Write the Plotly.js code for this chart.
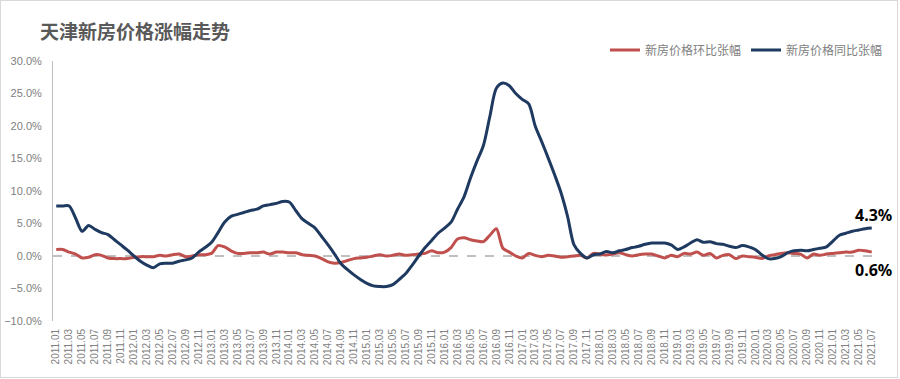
<!DOCTYPE html>
<html>
<head>
<meta charset="utf-8">
<script src="https://cdn.plot.ly/plotly-3.0.1.min.js"></script>
<style>
  html, body { margin: 0; padding: 0; background: #fff; }
  #wrap { position: relative; width: 900px; height: 379px; }
  #chart { width: 900px; height: 379px; }
  #frame { position: absolute; left: 0; top: 0; width: 896px; height: 376px; border: 1px solid #D9D9D9; pointer-events: none; }
</style>
</head>
<body>
<div id="wrap"><div id="chart"></div><div id="frame"></div></div>
<script>
// Categories: monthly, 2011.01 .. 2021.07
const startYear = 2011, endYear = 2021, endMonth = 7;
const months = [];
for (let y = startYear; y <= endYear; y++) {
  for (let m = 1; m <= 12; m++) {
    if (y === endYear && m > endMonth) break;
    months.push(y + '.' + (m < 10 ? '0' + m : m));
  }
}
// Tick labels: every second month
const tickLabels = months.filter((_, i) => i % 2 === 0);

// 新房价格环比张幅 (month-on-month, %)
const momValues = [
  1.0, 1.0, 0.6, 0.3, -0.3, -0.2, 0.2, 0.1, -0.3, -0.4, -0.4, -0.4,
  -0.2, -0.1, -0.1, -0.1, 0.1, 0.0, 0.2, 0.3, -0.1, 0.0, 0.2, 0.2,
  0.4, 1.6, 1.4, 0.8, 0.4, 0.4, 0.5, 0.5, 0.6, 0.3, 0.6, 0.6,
  0.5, 0.5, 0.2, 0.1, 0.0, -0.4, -0.9, -1.1, -1.0, -0.7, -0.4, -0.3,
  -0.2, 0.0, 0.2, 0.0, 0.1, 0.3, 0.1, 0.2, 0.3, 0.4, 0.8, 0.5,
  0.6, 1.3, 2.6, 2.8, 2.5, 2.3, 2.2, 3.2, 4.2, 1.2, 0.6, 0.0,
  -0.3, 0.4, 0.1, -0.1, 0.1, 0.0, -0.2, -0.1, 0.0, 0.1, -0.3, 0.4,
  0.3, 0.15, 0.3, 0.5, 0.2, 0.0, 0.2, 0.3, 0.3, 0.0, -0.3, 0.1,
  -0.1, 0.4, 0.3, 0.6, 0.1, 0.4, -0.3, 0.1, 0.2, -0.4, 0.0, -0.1,
  -0.2, -0.4, 0.0, 0.2, 0.4, 0.5, 0.4, 0.3, -0.3, 0.3, 0.1, 0.3,
  0.4, 0.5, 0.6, 0.6, 0.9, 0.8, 0.6
];

// 新房价格同比张幅 (year-on-year, %)
const yoyValues = [
  7.7, 7.7, 7.7, 5.8, 3.8, 4.7, 4.1, 3.6, 3.3, 2.5, 1.7, 0.9,
  0.0, -0.8, -1.4, -1.8, -1.2, -1.1, -1.1, -0.8, -0.6, -0.3, 0.6, 1.3,
  2.1, 3.6, 5.2, 6.1, 6.4, 6.7, 7.0, 7.2, 7.7, 7.9, 8.1, 8.4,
  8.3, 7.0, 5.7, 5.0, 4.3, 3.0, 1.7, 0.3, -1.2, -2.1, -2.9, -3.6,
  -4.2, -4.6, -4.7, -4.7, -4.4, -3.6, -2.7, -1.4, 0.0, 1.3, 2.4, 3.5,
  4.3, 5.2, 7.2, 9.1, 12.0, 14.6, 17.0, 21.5, 25.8, 26.6, 26.2, 25.0,
  24.1, 23.4, 20.0, 17.6, 15.1, 12.5, 9.7, 6.1, 1.7, 0.4, -0.3, 0.2,
  0.3, 0.7, 0.5, 0.8, 1.0, 1.3, 1.5, 1.8, 2.0, 2.0, 2.0, 1.7,
  1.0, 1.4, 2.0, 2.5, 2.1, 2.2, 1.9, 1.8, 1.5, 1.3, 1.6, 1.4,
  1.0, 0.2, -0.4, -0.4, -0.1, 0.5, 0.8, 0.9, 0.8, 1.0, 1.2, 1.4,
  2.3, 3.2, 3.5, 3.8, 4.0, 4.2, 4.3
];

const seriesNames = ['新房价格环比张幅', '新房价格同比张幅'];
const titleText = '天津新房价格涨幅走势';

const lastIdx = months.length - 1;

const traces = [
  {
    x: months, y: momValues, name: seriesNames[0], type: 'scatter', mode: 'lines',
    line: { color: '#C0504D', width: 3, shape: 'spline', smoothing: 0.8 },
    hoverinfo: 'x+y'
  },
  {
    x: months, y: yoyValues, name: seriesNames[1], type: 'scatter', mode: 'lines',
    line: { color: '#1F3A60', width: 3, shape: 'spline', smoothing: 0.8 },
    hoverinfo: 'x+y'
  }
];

const layout = {
  width: 900, height: 379,
  margin: { l: 53, r: 25, t: 61, b: 58, pad: 0 },
  paper_bgcolor: '#ffffff', plot_bgcolor: '#ffffff',
  font: { family: 'Liberation Sans, Arial, sans-serif', color: '#808080' },
  title: {
    text: '<b>' + titleText + '</b>',
    x: 40 / 900, xref: 'container', xanchor: 'left',
    y: 1 - 32 / 379, yref: 'container', yanchor: 'middle',
    font: { family: 'Noto Sans CJK SC, sans-serif', size: 19, color: '#595959' }
  },
  showlegend: true,
  legend: {
    orientation: 'h', x: (888 - 53) / 822, xanchor: 'right', y: (321 - 50) / 260, yanchor: 'middle',
    font: { family: 'Noto Sans CJK SC, sans-serif', size: 12, color: '#808080' },
    itemwidth: 30, bgcolor: 'rgba(0,0,0,0)'
  },
  xaxis: {
    type: 'category',
    range: [-0.5, lastIdx + 0.5],
    tickmode: 'array', tickvals: tickLabels, ticktext: tickLabels,
    tickangle: -90,
    tickfont: { family: 'Liberation Sans, Arial, sans-serif', size: 10, color: '#808080' },
    showgrid: false, zeroline: false, showline: false, ticks: '',
    ticklabelstandoff: 5,
    fixedrange: true
  },
  yaxis: {
    range: [-10, 30], dtick: 5, tick0: 0,
    tickformat: '.1f', ticksuffix: '%',
    tickfont: { family: 'Liberation Sans, Arial, sans-serif', size: 11, color: '#808080' },
    showgrid: false, zeroline: false,
    showline: true, linecolor: '#BFBFBF', linewidth: 1, ticks: '',
    ticklabelstandoff: 8,
    fixedrange: true
  },
  shapes: [
    {
      type: 'line', xref: 'paper', x0: 0, x1: 1, yref: 'y', y0: 0, y1: 0,
      line: { color: '#808080', width: 1, dash: 'dash' }, layer: 'below'
    }
  ],
  annotations: [
    {
      x: lastIdx, y: yoyValues[lastIdx], xref: 'x', yref: 'y',
      text: '<b>' + yoyValues[lastIdx].toFixed(1) + '%</b>', showarrow: false,
      xanchor: 'center', yanchor: 'middle', xshift: 2, yshift: 13,
      font: { family: 'Noto Sans, sans-serif', size: 16, color: '#000000' }
    },
    {
      x: lastIdx, y: momValues[lastIdx], xref: 'x', yref: 'y',
      text: '<b>' + momValues[lastIdx].toFixed(1) + '%</b>', showarrow: false,
      xanchor: 'center', yanchor: 'middle', xshift: 2, yshift: -18,
      font: { family: 'Noto Sans, sans-serif', size: 16, color: '#000000' }
    }
  ]
};

Plotly.newPlot('chart', traces, layout, { displayModeBar: false, responsive: false, staticPlot: true });
</script>
</body>
</html>
